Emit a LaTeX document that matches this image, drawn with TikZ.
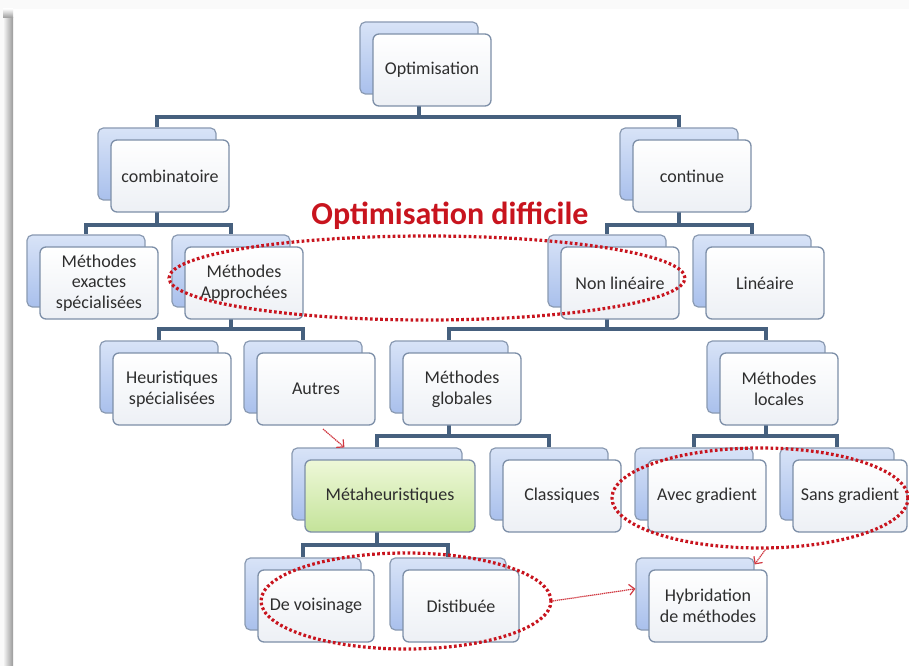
\documentclass[tikz,border=0pt]{standalone}
\usepackage{fontspec}
\setmainfont{Carlito}
\usetikzlibrary{shapes.geometric,arrows.meta,calc}

\definecolor{bkline}{HTML}{8A9AB2}
\definecolor{bktop}{HTML}{D8E3F7}
\definecolor{bkbot}{HTML}{A9C0EC}
\definecolor{frline}{HTML}{7D8FA8}
\definecolor{frbot}{HTML}{EDF0F5}
\definecolor{gtop}{HTML}{EEF8D8}
\definecolor{gbot}{HTML}{C4E39A}
\definecolor{connc}{HTML}{46607E}
\definecolor{redc}{HTML}{C8141E}
\definecolor{txtc}{HTML}{2E2E2E}

\pgfdeclarelayer{page}
\pgfdeclarelayer{links}
\pgfsetlayers{page,links,main}

\tikzset{
  bk/.style={draw=bkline, rounded corners=4pt, top color=bktop, bottom color=bkbot,
             inner sep=0pt, line width=0.9pt},
  fr/.style={draw=frline, rounded corners=4.5pt, top color=white, bottom color=frbot,
             inner sep=0pt, line width=1pt, font=\fontsize{13.5}{15.5}\selectfont,
             text=txtc, align=center},
  frg/.style={fr, top color=gtop, bottom color=gbot},
  conn/.style={draw=connc, line width=2.3pt},
  ell/.style={draw=redc, line width=2.4pt, dash pattern=on 2pt off 1.8pt,
              ellipse, inner sep=0pt},
  arr/.style={draw=redc!85, line width=0.9pt, dash pattern=on 1pt off 0.5pt,
              -{Straight Barb[length=4pt,width=8pt]}},
}

% two stacked boxes: back box with top left corner (x,y), front box shifted by (13,12)
% #1 front style, #2 name, #3 x, #4 y, #5 width, #6 height, #7 text
\newcommand{\twobox}[7][fr]{%
  \node[bk, minimum width=#5*0.75pt, minimum height=#6*0.75pt]
    (#2-b) at (#3+#5/2, #4+#6/2) {};
  \node[#1, minimum width=#5*0.75pt, minimum height=#6*0.75pt]
    (#2) at (#3+13+#5/2, #4+12+#6/2) {#7};
}
% tree link: parent #1, child #2, horizontal bar at height #3
\newcommand{\treelink}[3]{%
  \coordinate (barlevel) at (0,#3);
  \draw[conn] (#1-b.south) -- (#1-b.south |- barlevel) -| (#2-b.north);
}

\begin{document}
\begin{tikzpicture}[x=0.75pt,y=-0.75pt]
  \useasboundingbox (0,0) rectangle (909,666);
  % page and its left shadow
  \begin{pgfonlayer}{page}
    \fill[black!2] (0,0) rectangle (909,666);
    \fill[white] (13,9) rectangle (909,666);
    \shade[left color=black!2, right color=black!40] (3,18) rectangle (13,666);
    \shade[top color=black!2, bottom color=black!40] (3,9) rectangle (13,18);
  \end{pgfonlayer}

  \twobox{opt}{360}{22}{118}{72}{Optimisation}
  \twobox{comb}{98}{128}{118}{72}{combinatoire}
  \twobox{cont}{620}{128}{118}{72}{continue}
  \twobox{exact}{27}{235}{118}{72}{Méthodes\\exactes\\spécialisées}
  \twobox{appr}{172}{235}{118}{72}{Méthodes\\Approchées}
  \twobox{nonlin}{548}{235}{118}{72}{Non linéaire}
  \twobox{lin}{693}{235}{118}{72}{Linéaire}
  \twobox{heur}{100}{341}{118}{72}{Heuristiques\\spécialisées}
  \twobox{autres}{244}{341}{118}{72}{Autres}
  \twobox{glob}{390}{341}{118}{72}{Méthodes\\globales}
  \twobox{loc}{707}{341}{118}{72}{Méthodes\\locales}
  \twobox[frg]{meta}{292}{448}{170}{72}{Métaheuristiques}
  \twobox{class}{490}{448}{118}{72}{Classiques}
  \twobox{avec}{635}{448}{118}{72}{Avec gradient}
  \twobox{sans}{780}{448}{114}{72}{Sans gradient}
  \twobox{vois}{245}{558}{116}{72}{De voisinage}
  \twobox{dist}{390}{558}{116}{72}{Distibuée}
  \twobox{hyb}{636}{558}{118}{72}{Hybridation\\de méthodes}

  % tree connectors, behind the boxes
  \begin{pgfonlayer}{links}
    \treelink{opt}{comb}{117}
    \treelink{opt}{cont}{117}
    \treelink{comb}{exact}{225}
    \treelink{comb}{appr}{225}
    \treelink{cont}{nonlin}{225}
    \treelink{cont}{lin}{225}
    \treelink{appr}{heur}{329}
    \treelink{appr}{autres}{329}
    \treelink{nonlin}{glob}{329}
    \treelink{nonlin}{loc}{329}
    \treelink{glob}{meta}{436}
    \treelink{glob}{class}{436}
    \treelink{loc}{avec}{436}
    \treelink{loc}{sans}{436}
    \treelink{meta}{vois}{545}
    \treelink{meta}{dist}{545}
  \end{pgfonlayer}

  % highlighted groups
  \node[ell, minimum width=516*0.75pt, minimum height=84*0.75pt] (hard) at (427,278) {};
  \node[ell, minimum width=296*0.75pt, minimum height=100*0.75pt] (grad) at (760,498) {};
  \node[ell, minimum width=290*0.75pt, minimum height=96*0.75pt] (pop) at (406,601) {};

  \node[font=\bfseries\fontsize{24}{27}\selectfont, text=redc, anchor=base]
    (title) at (450,225) {Optimisation difficile};

  % dotted pointers
  \coordinate (metatail) at (323,429);
  \coordinate (metatip) at ($(meta-b.north west)+(53,0)$);
  \draw[arr] (metatail) -- (metatip);
  \draw[arr] (pop.east) -- (hyb-b.175);
  \draw[arr] (grad.-84) -- ($(hyb-b.north east)+(0,7)$);
\end{tikzpicture}
\end{document}
